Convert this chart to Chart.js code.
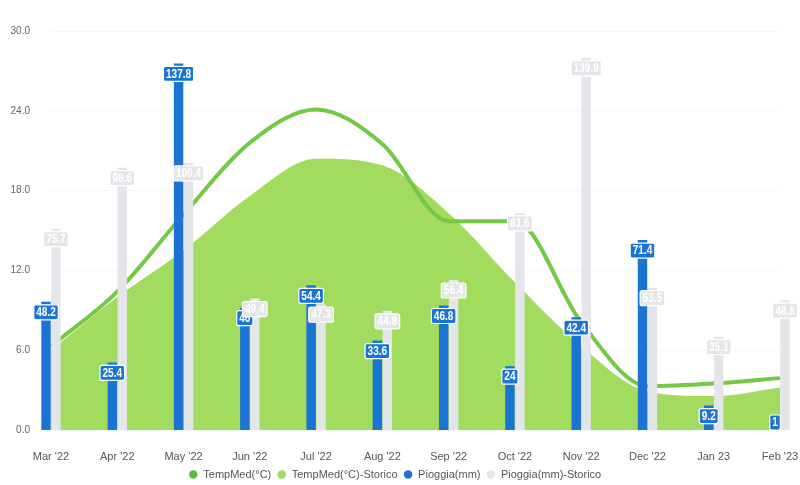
<!DOCTYPE html>
<html>
<head>
<meta charset="utf-8">
<script src="https://cdn.jsdelivr.net/npm/chart.js@4"></script>
<style>
  html, body { margin: 0; padding: 0; background: #fff; }
  #wrap { width: 800px; height: 485px; position: relative; }
</style>
</head>
<body>
<div id="wrap"><canvas id="meteo-chart"></canvas></div>
<script>
const FONT = '"Liberation Sans", Arial, sans-serif';

// months on the x axis
const months = ["Mar '22", "Apr '22", "May '22", "Jun '22", "Jul '22", "Aug '22", "Sep '22", "Oct '22", "Nov '22", "Dec '22", "Jan 23", "Feb '23"];

// average temperature (°C)
const tempMed = [6.3, 10.4, 16.2, 21.6, 24.1, 21.5, 15.7, 15.7, 8.1, 3.3, 3.5, 3.9];
const tempMedStorico = [6.0, 10.0, 13.5, 17.6, 20.4, 19.9, 16.3, 11.1, 6.3, 2.9, 2.55, 3.2];

// rain (mm)
const pioggia = [48.2, 25.4, 137.8, 46, 54.4, 33.6, 46.8, 24, 42.4, 71.4, 9.2, 1];
const pioggiaStorico = [75.7, 98.6, 100.4, 49.4, 47.3, 44.8, 56.4, 81.6, 139.9, 53.5, 35.1, 48.8];

const yTicks = [0, 6, 12, 18, 24, 30];

const BLUE = "#1a74d3";
const GREY = "#e3e5e9";

/* // draws the little value boxes at the top of each bar */
const valueLabels = {
  id: "valueLabels",
  afterDatasetsDraw(chart) {
    const ctx = chart.ctx;
    const squeeze = 0.84; // fake a narrow font
    ctx.save();
    ctx.font = "bold 12px " + FONT;
    ctx.textAlign = "center";
    ctx.textBaseline = "middle";
    chart.data.datasets.forEach((ds, i) => {
      if (ds.type !== "bar") return;
      const meta = chart.getDatasetMeta(i);
      meta.data.forEach((bar, j) => {
        const text = String(ds.data[j]);
        const w = ctx.measureText(text).width * squeeze + 5;
        const h = 15;
        let cy = bar.y + 3 + h / 2;
        if (cy + h / 2 > bar.base) cy = bar.base - h / 2;
        ctx.beginPath();
        ctx.roundRect(bar.x - w / 2, cy - h / 2, w, h, 2);
        ctx.fillStyle = ds.backgroundColor;
        ctx.fill();
        ctx.lineWidth = 1.2;
        ctx.strokeStyle = "#ffffff";
        ctx.stroke();
        ctx.save();
        ctx.translate(bar.x, cy + 0.5);
        ctx.scale(squeeze, 1);
        ctx.fillStyle = "#ffffff";
        ctx.fillText(text, 0, 0);
        ctx.restore();
      });
    });
    ctx.restore();
  }
};

const chart = new Chart(document.getElementById("meteo-chart"), {
  data: {
    labels: months,
    datasets: [
      {
        type: "line",
        label: "TempMed(°C)",
        data: tempMed,
        yAxisID: "y",
        borderColor: "#74c944",
        backgroundColor: "#5fbb3c",
        borderWidth: 4,
        pointRadius: 0,
        cubicInterpolationMode: "monotone",
        fill: false,
        order: 1,
      },
      {
        type: "line",
        label: "TempMed(°C)-Storico",
        data: tempMedStorico,
        yAxisID: "y",
        borderColor: "#a2dc5e",
        backgroundColor: "#a2dc5e",
        borderWidth: 0,
        pointRadius: 0,
        cubicInterpolationMode: "monotone",
        fill: "origin",
        order: 2,
      },
      {
        type: "bar",
        label: "Pioggia(mm)",
        data: pioggia,
        yAxisID: "y2",
        backgroundColor: BLUE,
        categoryPercentage: 0.3,
        barPercentage: 0.95,
        clip: false,
        order: 0,
      },
      {
        type: "bar",
        label: "Pioggia(mm)-Storico",
        data: pioggiaStorico,
        yAxisID: "y2",
        backgroundColor: GREY,
        categoryPercentage: 0.3,
        barPercentage: 0.95,
        clip: false,
        order: 0,
      },
    ],
  },
  options: {
    responsive: true,
    maintainAspectRatio: false,
    animation: false,
    layout: { padding: { left: 10, right: 20, top: 31, bottom: -5 } },
    scales: {
      x: {
        offset: false,
        grid: { display: false, drawTicks: false },
        border: { display: false },
        ticks: { color: "#555", font: { family: FONT, size: 11 }, padding: 20, maxRotation: 0, autoSkip: false },
        afterFit: (axis) => {
          axis.height = 33;
          axis.paddingLeft = 0;
          axis.paddingRight = 0;
        },
      },
      y: {
        position: "left",
        min: 0,
        max: 30,
        afterBuildTicks: (axis) => { axis.ticks = yTicks.map(v => ({ value: v })); },
        grid: { color: "rgba(0,0,0,0.035)", drawTicks: false },
        border: { display: false },
        ticks: { color: "#666", font: { family: FONT, size: 10 }, padding: 21, callback: (v) => Number(v).toFixed(1) },
        afterFit: (axis) => { axis.width = 41; },
      },
      y2: {
        type: "linear",
        axis: "y",
        position: "right",
        display: false,
        min: 0,
        max: 150,
      },
    },
    plugins: {
      legend: {
        position: "bottom",
        labels: {
          usePointStyle: true,
          pointStyle: "circle",
          boxWidth: 9,
          boxHeight: 6,
          padding: 6,
          color: "#555",
          font: { family: FONT, size: 11 },
          generateLabels: (c) => Chart.defaults.plugins.legend.labels.generateLabels(c)
            .map(l => ({ ...l, lineWidth: 0, strokeStyle: l.fillStyle })),
          sort: (a, b) => a.datasetIndex - b.datasetIndex,
        },
      },
      tooltip: { enabled: false },
    },
  },
  plugins: [valueLabels],
});
</script>
</body>
</html>
